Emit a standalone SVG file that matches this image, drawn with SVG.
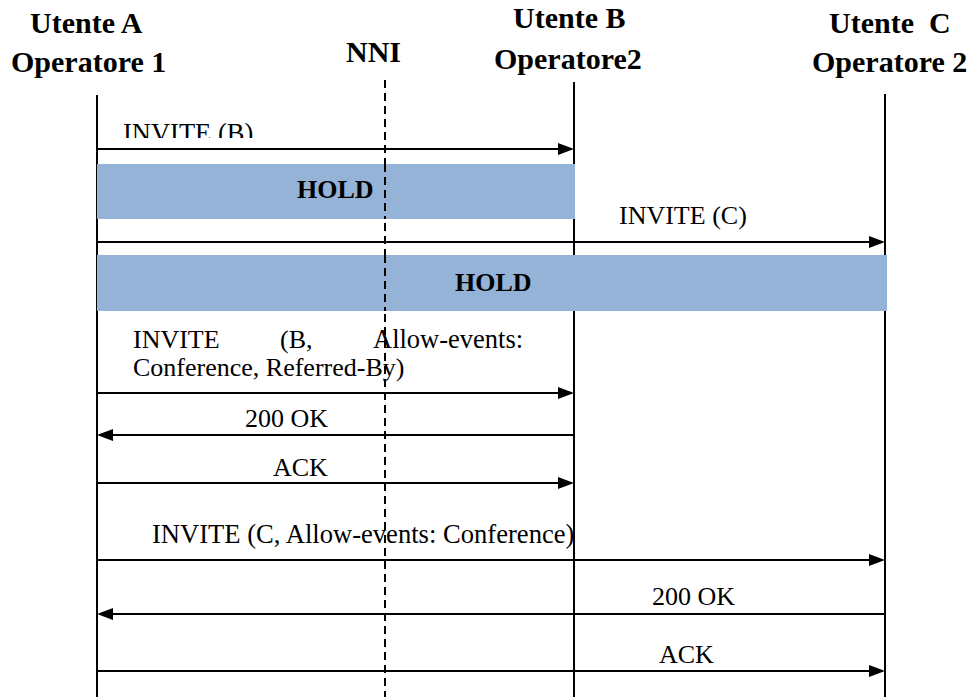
<svg xmlns="http://www.w3.org/2000/svg" width="969" height="697" viewBox="0 0 969 697">
<rect width="969" height="697" fill="#fff"/>

<g id="utenteA">
<text font-family="'Liberation Serif', 'Times New Roman', serif" font-weight="bold" font-size="30" x="30" y="33">Utente A</text>
<text font-family="'Liberation Serif', 'Times New Roman', serif" font-weight="bold" font-size="30" x="11" y="72">Operatore 1</text>
<line stroke="#000" stroke-width="2" x1="97" y1="95" x2="97" y2="697"/>
</g>
<g id="nni">
<text font-family="'Liberation Serif', 'Times New Roman', serif" font-weight="bold" font-size="30" x="346" y="62">NNI</text>
<line stroke="#000" stroke-width="2" stroke-dasharray="8,5" x1="385" y1="80" x2="385" y2="697"/>
</g>
<g id="utenteB">
<text font-family="'Liberation Serif', 'Times New Roman', serif" font-weight="bold" font-size="30" x="513" y="28">Utente B</text>
<text font-family="'Liberation Serif', 'Times New Roman', serif" font-weight="bold" font-size="30" x="494" y="69">Operatore2</text>
<line stroke="#000" stroke-width="2" x1="574" y1="82" x2="574" y2="697"/>
</g>
<g id="utenteC">
<text font-family="'Liberation Serif', 'Times New Roman', serif" font-weight="bold" font-size="30" x="829" y="33">Utente&#160; C</text>
<text font-family="'Liberation Serif', 'Times New Roman', serif" font-weight="bold" font-size="30" x="812" y="72">Operatore 2</text>
<line stroke="#000" stroke-width="2" x1="885" y1="94" x2="885" y2="697"/>
</g>

<g id="hold1">
<rect fill="#95B3D7" x="97" y="164" width="478" height="55"/>
<text font-family="'Liberation Serif', 'Times New Roman', serif" font-weight="bold" font-size="26" x="297" y="198">HOLD</text>
</g>
<g id="hold2">
<rect fill="#95B3D7" x="97" y="255" width="790" height="56"/>
<text font-family="'Liberation Serif', 'Times New Roman', serif" font-weight="bold" font-size="26" x="455" y="291">HOLD</text>
</g>
<line stroke="#000" stroke-width="2" stroke-dasharray="8,5" x1="385" y1="164" x2="385" y2="219"/>
<line stroke="#000" stroke-width="2" stroke-dasharray="8,5" x1="385" y1="255" x2="385" y2="311"/>

<g id="labels">
<text font-family="'Liberation Serif', 'Times New Roman', serif" font-size="26.5" x="123" y="142">INVITE (B)</text>
<rect x="110" y="138" width="160" height="10" fill="#fff"/>
<text font-family="'Liberation Serif', 'Times New Roman', serif" font-size="26" x="619" y="224">INVITE (C)</text>
<text font-family="'Liberation Serif', 'Times New Roman', serif" font-size="26" x="133" y="348">INVITE</text>
<text font-family="'Liberation Serif', 'Times New Roman', serif" font-size="26" x="280" y="348">(B,</text>
<text font-family="'Liberation Serif', 'Times New Roman', serif" font-size="26.5" x="373" y="348">Allow-events:</text>
<text font-family="'Liberation Serif', 'Times New Roman', serif" font-size="26" x="133" y="376">Conference, Referred-By)</text>
<text font-family="'Liberation Serif', 'Times New Roman', serif" font-size="26" x="245" y="427">200 OK</text>
<text font-family="'Liberation Serif', 'Times New Roman', serif" font-size="26" x="273" y="476">ACK</text>
<text font-family="'Liberation Serif', 'Times New Roman', serif" font-size="26.6" x="152" y="543">INVITE (C, Allow-events: Conference)</text>
<text font-family="'Liberation Serif', 'Times New Roman', serif" font-size="26" x="652" y="605">200 OK</text>
<text font-family="'Liberation Serif', 'Times New Roman', serif" font-size="26" x="659" y="663">ACK</text>
</g>

<g id="connectors" stroke="#000" stroke-width="2">
<line x1="97" y1="149" x2="560" y2="149"/>
<polygon points="558,143 574,149 558,155" fill="#000" stroke="none"/>
<line x1="97" y1="242" x2="871" y2="242"/>
<polygon points="869,236 885,242 869,248" fill="#000" stroke="none"/>
<line x1="97" y1="393" x2="560" y2="393"/>
<polygon points="558,387 574,393 558,399" fill="#000" stroke="none"/>
<line x1="574" y1="435" x2="111" y2="435"/>
<polygon points="113,429 97,435 113,441" fill="#000" stroke="none"/>
<line x1="97" y1="483" x2="560" y2="483"/>
<polygon points="558,477 574,483 558,489" fill="#000" stroke="none"/>
<line x1="97" y1="560" x2="871" y2="560"/>
<polygon points="869,554 885,560 869,566" fill="#000" stroke="none"/>
<line x1="885" y1="614" x2="111" y2="614"/>
<polygon points="113,608 97,614 113,620" fill="#000" stroke="none"/>
<line x1="97" y1="671" x2="871" y2="671"/>
<polygon points="869,665 885,671 869,677" fill="#000" stroke="none"/>
</g>
</svg>
